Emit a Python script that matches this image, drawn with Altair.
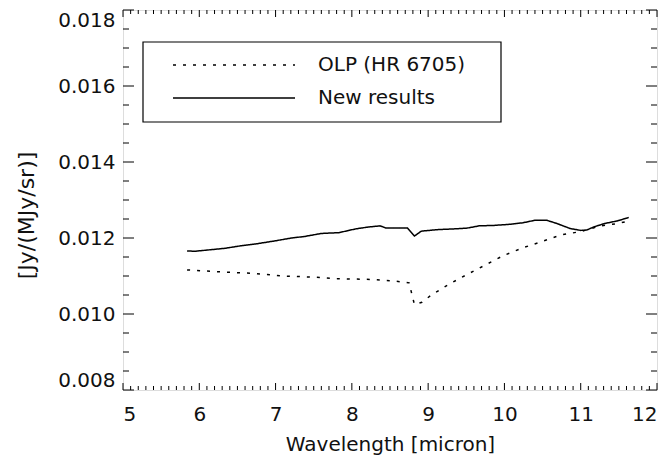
import altair as alt
import pandas as pd

# Series names
series_names = ["OLP (HR 6705)", "New results"]

# OLP (HR 6705) conversion factor
olp_wave = [5.84, 6.27, 6.69, 7.10, 7.50, 7.81, 8.24, 8.55, 8.75, 8.82, 8.92, 9.03,
            9.27, 9.51, 9.75, 9.99, 10.24, 10.48, 10.74, 11.00, 11.26, 11.48, 11.64]
olp_value = [0.01116, 0.01111, 0.01107, 0.01100, 0.01097, 0.01093, 0.01091, 0.01087,
             0.01082, 0.01025, 0.01031, 0.01048, 0.01078, 0.01104, 0.01129, 0.01154,
             0.01174, 0.01190, 0.01208, 0.01217, 0.01232, 0.01238, 0.01245]

# New results conversion factor
new_wave = [5.84, 5.94, 6.34, 6.53, 6.76, 6.98, 7.21, 7.38, 7.60, 7.83, 8.05, 8.22,
            8.37, 8.45, 8.73, 8.82, 8.91, 9.12, 9.34, 9.51, 9.67, 9.85, 10.07, 10.24,
            10.41, 10.55, 10.69, 10.86, 11.00, 11.08, 11.17, 11.31, 11.48, 11.63]
new_value = [0.01166, 0.01165, 0.01173, 0.01179, 0.01185, 0.01192, 0.01200, 0.01204,
             0.01212, 0.01214, 0.01224, 0.01229, 0.01232, 0.01226, 0.01226, 0.01205,
             0.01218, 0.01222, 0.01224, 0.01226, 0.01232, 0.01233, 0.01236, 0.01240,
             0.01247, 0.01247, 0.01238, 0.01225, 0.01220, 0.01221, 0.01229, 0.01238,
             0.01245, 0.01254]

# Axis ticks
x_major = [5, 6, 7, 8, 9, 10, 11, 12]
y_major = [0.008, 0.010, 0.012, 0.014, 0.016, 0.018]
x_minor = [round(5 + i * 0.1, 2) for i in range(71) if i % 10 != 0]
y_minor = [round(0.008 + i * 0.0005, 5) for i in range(21) if i % 4 != 0]

W, H = 534, 380
FONT = "DejaVu Sans"
FS = 20
INK = "#111111"
DOTTED = [3, 7]

df = pd.concat([
    pd.DataFrame({"wave": olp_wave, "value": olp_value, "series": series_names[0]}),
    pd.DataFrame({"wave": new_wave, "value": new_value, "series": series_names[1]}),
])

xs = alt.Scale(domain=[5, 12], nice=False, zero=False)
ys = alt.Scale(domain=[0.008, 0.018], nice=False, zero=False)

x_axis = alt.Axis(values=x_major, format="d", ticks=False, domain=False, grid=False,
                  labelFont=FONT, labelFontSize=FS, labelColor=INK, labelPadding=14,
                  title="Wavelength [micron]", titleFont=FONT, titleFontSize=FS,
                  titleFontWeight="normal", titleColor=INK, titlePadding=10)
y_axis = alt.Axis(values=y_major, format=".3f", ticks=False, domain=False, grid=False,
                  labelFont=FONT, labelFontSize=FS, labelColor=INK, labelPadding=8,
                  labelFlush=True,
                  title="[Jy/(MJy/sr)]", titleFont=FONT, titleFontSize=22,
                  titleFontWeight="normal", titleColor=INK, titleX=-97, titleY=205,
                  titleBaseline="middle")

lines = alt.Chart(df).mark_line(strokeWidth=1.5, color="black").encode(
    x=alt.X("wave:Q", scale=xs, axis=x_axis),
    y=alt.Y("value:Q", scale=ys, axis=y_axis),
    strokeDash=alt.StrokeDash("series:N", scale=alt.Scale(domain=series_names,
                                                           range=[DOTTED, [1, 0]]),
                              legend=None),
    detail="series:N",
)

# Inward-pointing ticks on all four sides of the frame
def xticks(vals, length):
    d = pd.DataFrame({"v": vals})
    base = alt.Chart(d).mark_rule(color="black", strokeWidth=1)
    bottom = base.encode(x=alt.X("v:Q", scale=xs), y=alt.value(H), y2=alt.value(H - length))
    top = base.encode(x=alt.X("v:Q", scale=xs), y=alt.value(0), y2=alt.value(length))
    return bottom + top

def yticks(vals, length):
    d = pd.DataFrame({"v": vals})
    base = alt.Chart(d).mark_rule(color="black", strokeWidth=1)
    left = base.encode(y=alt.Y("v:Q", scale=ys), x=alt.value(0), x2=alt.value(length))
    right = base.encode(y=alt.Y("v:Q", scale=ys), x=alt.value(W), x2=alt.value(W - length))
    return left + right

ticks = xticks(x_major, 7) + xticks(x_minor, 4) + yticks(y_major, 11) + yticks(y_minor, 6)

# Legend box with one sample line and label per series
legend_box = alt.Chart(pd.DataFrame({"k": [0]})).mark_rect(
    fill="white", stroke="black", strokeWidth=1.2
).encode(x=alt.value(20), x2=alt.value(378), y=alt.value(32), y2=alt.value(112))

leg = pd.DataFrame({"series": series_names})
legend_layers = []
for i, (name, dash) in enumerate(zip(series_names, [DOTTED, [1, 0]])):
    row_y = 55 + 33 * i
    row = alt.Chart(leg[leg.series == name])
    legend_layers.append(row.mark_rule(color="black", strokeWidth=1.5, strokeDash=dash).encode(
        x=alt.value(50), x2=alt.value(172), y=alt.value(row_y)))
    legend_layers.append(row.mark_text(
        align="left", baseline="middle", font=FONT, fontSize=FS, color=INK
    ).encode(x=alt.value(195), y=alt.value(row_y), text="series:N"))

chart = alt.layer(lines, ticks, legend_box, *legend_layers).properties(
    width=W, height=H,
    autosize=alt.AutoSizeParams(type="none"),
    padding={"left": 123, "top": 10, "right": 15, "bottom": 66},
).configure_view(stroke="black", strokeWidth=1.3).configure(background="white")

chart.save("out.html", embed_options={"renderer": "svg", "actions": False})
